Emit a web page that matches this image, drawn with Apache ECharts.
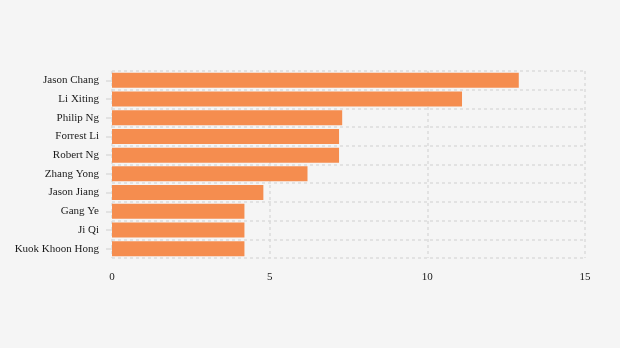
<!DOCTYPE html>
<html>
<head>
<meta charset="utf-8">
<style>
  html, body { margin: 0; padding: 0; background: #f5f5f5; }
  #chart { width: 620px; height: 348px; }
</style>
<script src="https://cdn.jsdelivr.net/npm/echarts@6/dist/echarts.min.js"></script>
</head>
<body>
<div id="chart"></div>
<script>
// Names listed bottom-to-top so the largest bar sits at the top
const names = ['Kuok Khoon Hong', 'Ji Qi', 'Gang Ye', 'Jason Jiang', 'Zhang Yong',
               'Robert Ng', 'Forrest Li', 'Philip Ng', 'Li Xiting', 'Jason Chang'];
const values = [4.2, 4.2, 4.2, 4.8, 6.2, 7.2, 7.2, 7.3, 11.1, 12.9];
const valueTicks = [0, 5, 10, 15];

const chart = echarts.init(document.getElementById('chart'), null, { renderer: 'canvas' });

const gridLine = { show: true, lineStyle: { color: '#dcdcdc', type: [3, 3], width: 1.5 } };
const fontFamily = '"Liberation Serif", "DejaVu Serif", serif';

chart.setOption({
  backgroundColor: '#f5f5f5',
  animation: false,
  grid: { left: 112, right: 35, top: 71, bottom: 90, containLabel: false },
  xAxis: {
    type: 'value',
    min: valueTicks[0],
    max: valueTicks[valueTicks.length - 1],
    interval: 5,
    axisLine: { show: false },
    axisTick: { show: false },
    axisLabel: { color: '#1a1a1a', fontFamily, fontSize: 11, margin: 14 },
    splitLine: gridLine
  },
  yAxis: {
    type: 'category',
    data: names,
    axisLine: { show: false },
    axisTick: { show: true, alignWithLabel: true, length: 6, lineStyle: { color: '#dcdcdc', width: 1.5 } },
    axisLabel: { color: '#1a1a1a', fontFamily, fontSize: 11, margin: 13 },
    splitLine: gridLine
  },
  series: [{
    type: 'bar',
    data: values,
    barWidth: '80%',
    itemStyle: { color: '#f58d4f' }
  }]
});
</script>
</body>
</html>
